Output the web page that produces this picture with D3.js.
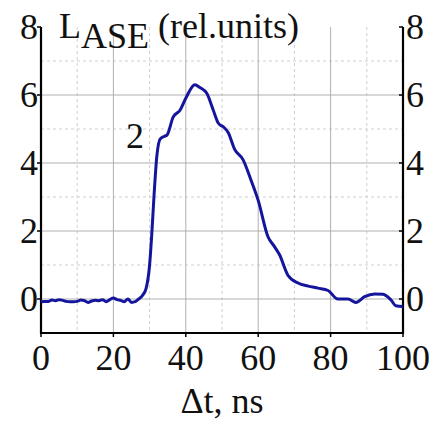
<!DOCTYPE html>
<meta charset="utf-8">
<svg width="438" height="424"></svg>
<script src="https://d3js.org/d3.v7.min.js"></script>
<script>

// time, ns
var times = [0, 1, 2, 3, 4, 5, 6, 7, 8, 9, 10, 11, 12, 13, 14, 15, 16, 17, 18, 19,
  20, 21, 22, 23, 24, 25, 26, 27, 28, 29, 30, 30.6, 31.2, 32, 32.9, 34, 34.8, 36.5,
  38.4, 40.2, 42.5, 43.9, 45.8, 47.6, 49, 50.5, 51.7, 53.5, 55.8, 58, 60, 62.7,
  64.5, 65.9, 68.2, 71, 73.8, 76.5, 79.3, 82, 84.8, 87, 89.4, 92.2, 94.5, 96.7, 98, 100];
// L_ASE, rel. units (curve 2)
var lase = [-0.08, -0.07, -0.07, -0.03, -0.05, -0.02, -0.04, -0.07, -0.08, -0.08,
  -0.07, -0.03, -0.05, -0.1, -0.06, -0.04, -0.05, -0.02, -0.08, -0.02,
  0.03, -0.02, -0.04, -0.08, 0.0, -0.1, -0.08, 0.0, 0.1, 0.3, 1.0, 1.9, 3.0, 4.2, 4.7,
  4.78, 4.82, 5.35, 5.55, 5.95, 6.3, 6.22, 6.05, 5.55, 5.17, 5.05, 4.9, 4.4, 4.1, 3.5,
  2.9, 1.83, 1.54, 1.3, 0.7, 0.47, 0.38, 0.32, 0.25, 0.0, 0.0, -0.1, 0.07, 0.15, 0.14,
  -0.03, -0.2, -0.22];

var xTicks = [0, 20, 40, 60, 80, 100];
var yTicks = [0, 2, 4, 6, 8];
var xMinor = [10, 30, 50, 70, 90];
var yMinor = [1, 3, 5, 7];

d3.select("body").style("margin", "0px");

var svg = d3.select("svg");
var x = d3.scaleLinear().domain([0, 100]).range([41, 403]);
var y = d3.scaleLinear().domain([-1, 8]).range([333, 27]);

function serif(sel, size) {
  return sel.style("font-family", "Liberation Serif").style("font-size", size + "px")
    .style("fill", "#111");
}

// grid
svg.selectAll(".vmin").data(xMinor).enter().append("line")
    .attr("x1", x).attr("x2", x).attr("y1", y(8)).attr("y2", y(-1))
    .attr("stroke", "#cfcfcf").attr("stroke-dasharray", "3,3");
svg.selectAll(".hmin").data(yMinor).enter().append("line")
    .attr("y1", y).attr("y2", y).attr("x1", x(0)).attr("x2", x(100))
    .attr("stroke", "#cfcfcf").attr("stroke-dasharray", "3,3");
svg.selectAll(".vmaj").data(xTicks.slice(1, -1)).enter().append("line")
    .attr("x1", x).attr("x2", x).attr("y1", y(8)).attr("y2", y(-1))
    .attr("stroke", "#b0b0b0");
svg.selectAll(".hmaj").data(yTicks.slice(0, -1)).enter().append("line")
    .attr("y1", y).attr("y2", y).attr("x1", x(0)).attr("x2", x(100))
    .attr("stroke", "#b0b0b0");

// frame: left, bottom, right
svg.append("path")
    .attr("d", "M" + x(0) + "," + y(8) + "V" + y(-1) + "H" + x(100) + "V" + y(8))
    .attr("fill", "none").attr("stroke", "#000").attr("stroke-width", 2.2);

// ticks
svg.selectAll(".xt").data(xTicks).enter().append("line")
    .attr("x1", x).attr("x2", x).attr("y1", y(-1)).attr("y2", y(-1) + 4)
    .attr("stroke", "#000").attr("stroke-width", 1.5);
[x(0), x(100)].forEach(function(px) {
  svg.append("g").selectAll("line").data(yTicks).enter().append("line")
      .attr("x1", px - 4).attr("x2", px).attr("y1", y).attr("y2", y)
      .attr("stroke", "#000").attr("stroke-width", 1.5);
});

// tick labels
serif(svg.selectAll(".xl").data(xTicks).enter().append("text"), 36)
    .attr("x", x).attr("y", y(-1) + 37).attr("text-anchor", "middle")
    .text(function(d) { return d; });
serif(svg.selectAll(".yl").data(yTicks).enter().append("text"), 36)
    .attr("x", x(0) - 3).attr("y", function(d) { return y(d) + 12; })
    .attr("text-anchor", "end").text(function(d) { return d; });
serif(svg.selectAll(".yr").data(yTicks).enter().append("text"), 36)
    .attr("x", x(100) + 3).attr("y", function(d) { return y(d) + 12; })
    .attr("text-anchor", "start").text(function(d) { return d; });

// curve
var line = d3.line()
    .x(function(d, i) { return x(times[i]); })
    .y(function(d) { return y(d); })
    .curve(d3.curveMonotoneX);
svg.append("path").datum(lase)
    .attr("d", line)
    .attr("fill", "none")
    .attr("stroke", "#14149c")
    .attr("stroke-width", 3)
    .attr("stroke-linejoin", "round");

// labels
var labels = [
  {text: "2", x: 135, y: 148},
  {text: "Δt, ns", x: 222, y: 413}
];
serif(svg.selectAll(".lab").data(labels).enter().append("text"), 36)
    .attr("x", function(d) { return d.x; }).attr("y", function(d) { return d.y; })
    .attr("text-anchor", "middle").text(function(d) { return d.text; });

var titleParts = [
  {text: "L", dy: 0},
  {text: "ASE", dy: 10},
  {text: " (rel.units)", dy: -10}
];
var title = serif(svg.selectAll(".title").data([0]).enter().append("text"), 36)
    .attr("x", 59).attr("y", 38);
title.selectAll("tspan").data(titleParts).enter().append("tspan")
    .attr("dy", function(d) { return d.dy; }).text(function(d) { return d.text; });

</script>
